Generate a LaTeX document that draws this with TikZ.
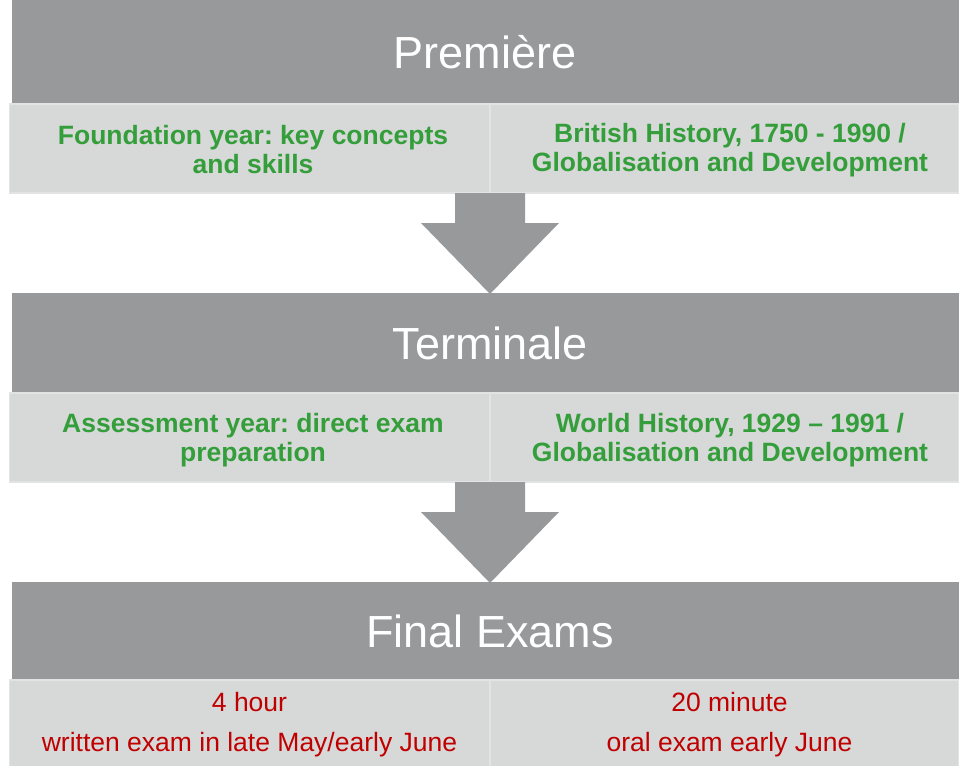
\documentclass[tikz,border=0pt]{standalone}
\usepackage{fontspec}
\setmainfont{Liberation Sans}
\frenchspacing
\definecolor{bandgray}{RGB}{152,153,155}
\definecolor{cellgray}{RGB}{215,216,216}
\definecolor{celledge}{RGB}{226,227,227}
\definecolor{topicgreen}{RGB}{51,158,58}
\definecolor{examred}{RGB}{192,0,0}
\tikzset{
  band/.style={fill=bandgray, inner sep=0pt, minimum width=947pt, minimum height=100pt},
  bandtext/.style={text=white, font=\fontsize{45}{54}\selectfont},
  cell/.style={fill=cellgray, draw=celledge, line width=1.5pt, inner sep=0pt,
    minimum width=480pt, minimum height=89pt},
  topic/.style={text=topicgreen, align=center, font=\fontsize{26.5}{29}\selectfont\bfseries},
  exam/.style={text=examred, align=center, font=\fontsize{26.5}{40}\selectfont},
  blockarrow/.style={fill=bandgray}
}
\begin{document}
\begin{tikzpicture}[x=1pt, y=-1pt]
        \useasboundingbox (0,0) rectangle (959,766);

        % Premiere
        \node[band, minimum height=104pt] (pre) at (485.5,52) {};
        \node[bandtext] (preT) at (485,52) {Première};
        \node[cell] (preL) at (249.5,148.5) {};
        \node[cell, minimum width=469pt] (preR) at (724.5,148.5) {};
        \node[topic] at (253,149.5) {Foundation year: key concepts\\and skills};
        \node[topic] at (730,150.5) {British History, 1750 - 1990 /\\Globalisation and Development};

        % arrow down
        \coordinate (arrA) at (490,193);
        \fill[blockarrow, shift={(arrA)}] (-35,0) -- (35,0) -- (35,30) -- (69,30)
          -- (0,101) -- (-69,30) -- (-35,30) -- cycle;

        % Terminale
        \node[band] (term) at (485.5,343) {};
        \node[bandtext] (termT) at (490,343) {Terminale};
        \node[cell] (termL) at (249.5,437.5) {};
        \node[cell, minimum width=469pt] (termR) at (724.5,437.5) {};
        \node[topic] at (253,440.5) {Assessment year: direct exam\\preparation};
        \node[topic] at (730,440.5) {World History, 1929 – 1991 /\\Globalisation and Development};

        % arrow down
        \coordinate (arrB) at (490,482);
        \fill[blockarrow, shift={(arrB)}] (-35,0) -- (35,0) -- (35,30) -- (69,30)
          -- (0,101) -- (-69,30) -- (-35,30) -- cycle;

        % Final Exams
        \node[band, minimum height=98pt] (final) at (485.5,631) {};
        \node[bandtext] (finalT) at (490,631) {Final Exams};
        \node[cell, minimum height=100pt] (finL) at (249.5,730) {};
        \node[cell, minimum width=469pt, minimum height=100pt] (finR) at (724.5,730) {};
        \node[exam] at (249.5,725) {4 hour\\written exam in late May/early June};
        \node[exam] at (729.5,725) {20 minute\\oral exam early June};
      \end{tikzpicture}
\end{document}
